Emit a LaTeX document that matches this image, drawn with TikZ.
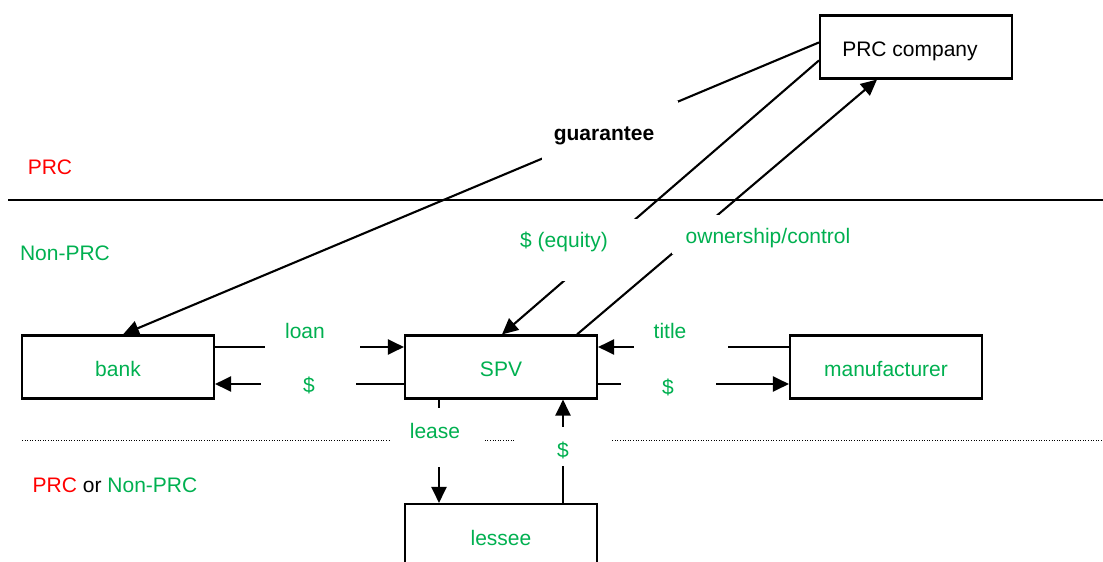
\documentclass[tikz,border=0pt]{standalone}
\usepackage{fontspec}
\setmainfont{Liberation Sans}
\usetikzlibrary{arrows.meta}
\definecolor{grn}{RGB}{0,176,80}
\definecolor{prcred}{RGB}{255,0,0}
\tikzset{
  box/.style={draw=black, line width=2.1pt, minimum width=192pt, minimum height=63pt, inner sep=0pt, text height=19pt, text depth=0pt, font=\fontsize{21}{25}\selectfont},
  conn/.style={line width=2.1pt, -{Triangle[length=16pt,width=15pt]}},
  mask/.style={fill=white},
  lbl/.style={inner sep=0pt, font=\fontsize{21}{25}\selectfont},
}
\begin{document}
\begin{tikzpicture}[x=1pt,y=-1pt]
\useasboundingbox (0,0) rectangle (1103,562);
\clip (0,0) rectangle (1103,562);
% boundary lines
\draw[line width=1.8pt] (8,200) -- (1103,200);
\draw[line width=1pt, dash pattern=on 1pt off 1.6pt] (22,440) -- (1103,440);
% boxes
\node[box] (prc) at (916,47) {\hspace*{-12pt}PRC company};
\node[box, text=grn] (bank) at (118,367) {bank};
\node[box, text=grn] (spv) at (501,367) {SPV};
\node[box, text=grn] (mfr) at (886,367) {manufacturer};
\node[box, text=grn, minimum height=64pt] (lessee) at (501,536) {};
% connectors
\draw[conn] ([yshift=-28pt]prc.north west) -- ([xshift=5pt]bank.north);
\draw[conn] ([yshift=-46pt]prc.north west) -- ([xshift=1pt]spv.north);
\draw[conn] ([xshift=76pt]spv.north) -- ([xshift=-39pt]prc.south);
\draw[conn] ([yshift=20pt]bank.east) -- ([yshift=20pt]spv.west);
\draw[conn] ([yshift=-17pt]spv.west) -- ([yshift=-17pt]bank.east);
\draw[conn] ([yshift=20pt]mfr.west) -- ([yshift=20pt]spv.east);
\draw[conn] ([yshift=-17pt]spv.east) -- ([yshift=-17pt]mfr.west);
\draw[conn] ([xshift=-62pt]spv.south) -- ([xshift=-62pt]lessee.north);
\draw[conn] ([xshift=62pt]lessee.north) -- ([xshift=62pt]spv.south);
% masks (text boxes covering the lines)
\fill[mask] (542,101) rectangle (678,160);
\fill[mask] (512,219) rectangle (638,281);
\fill[mask] (672,215) rectangle (858,254);
\fill[mask] (265,320) rectangle (360,356);
\fill[mask] (261,372) rectangle (356,398);
\fill[mask] (634,320) rectangle (728,356);
\fill[mask] (621,372) rectangle (716,398);
\fill[mask] (390,408) rectangle (485,467);
\fill[mask] (516,427) rectangle (612,466);
% labels
\node[lbl, text=prcred] (lprc) at (50,167) {PRC};
\node[lbl, text=grn] (lnon) at (65,253) {Non-PRC};
\node[lbl] (lboth) at (115,485) {\textcolor{prcred}{PRC} or \textcolor{grn}{Non-PRC}};
\node[lbl, font=\fontsize{21}{25}\selectfont\bfseries] (lguar) at (604,136) {guarantee};
\node[lbl, text=grn] (lequity) at (564,242) {\$ (equity)};
\node[lbl, text=grn] (lown) at (768,238) {ownership/control};
\node[lbl, text=grn] (lloan) at (305,331) {loan};
\node[lbl, text=grn] (ldol1) at (309,385) {\$};
\node[lbl, text=grn] (ltitle) at (670,331) {title};
\node[lbl, text=grn] (ldol2) at (668,387) {\$};
\node[lbl, text=grn] (llease) at (435,431) {lease};
\node[lbl, text=grn] (ldol3) at (563,450) {\$};
\node[lbl, text=grn] (llessee) at (501,538) {lessee};
\end{tikzpicture}
\end{document}
